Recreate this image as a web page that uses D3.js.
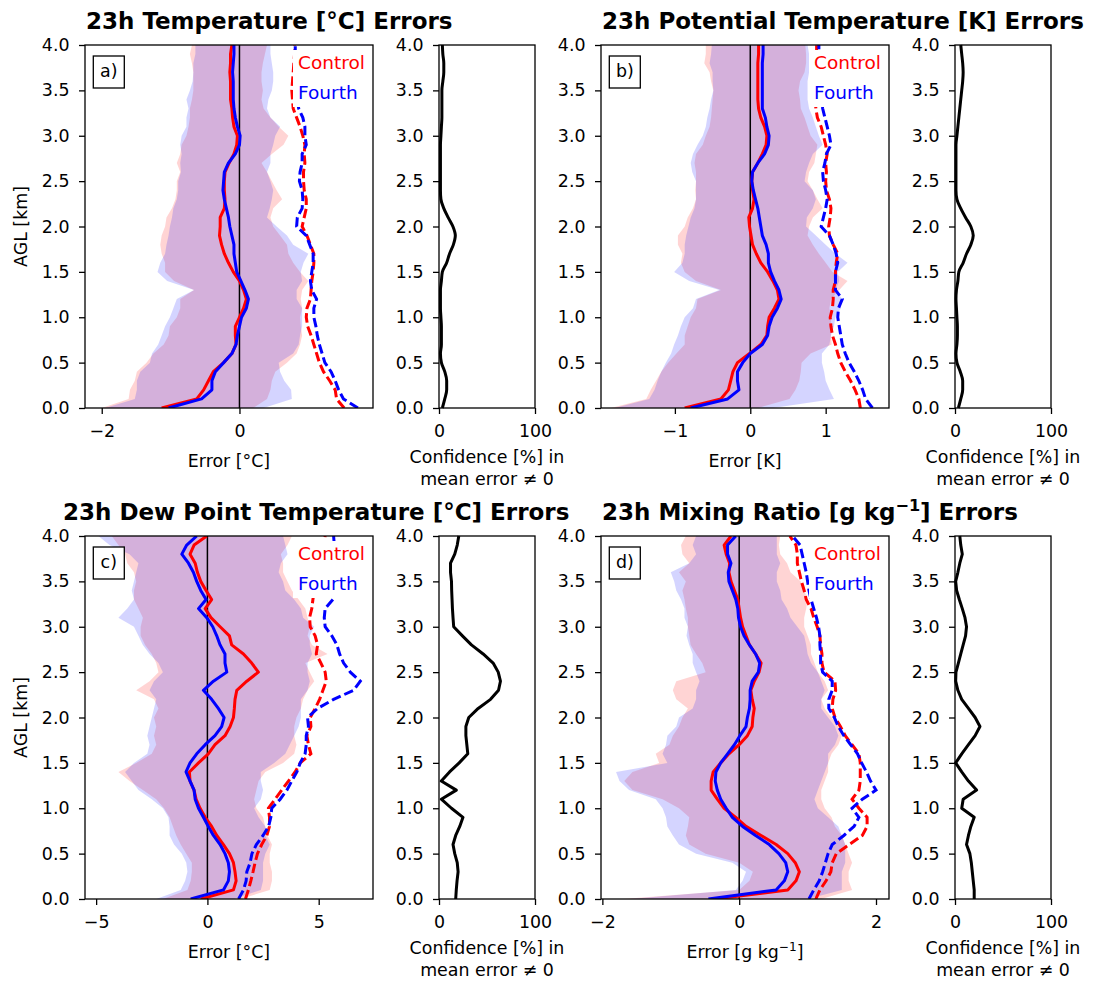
<!DOCTYPE html>
<html>
<head>
<meta charset="utf-8">
<script src="https://cdn.jsdelivr.net/npm/d3@7"></script>
<style>
body { margin: 0; background: #fff; }
svg text { font-family: "DejaVu Sans", sans-serif; fill: #000; }
</style>
</head>
<body>
<svg id="chart" width="1095" height="988"></svg>
<script>
// heights above ground level [km]
const heights = [0.0,0.1,0.2,0.3,0.4,0.5,0.6,0.7,0.8,0.9,1.0,1.1,1.2,1.3,1.4,1.5,1.6,1.7,1.8,1.9,2.0,
                 2.1,2.2,2.3,2.4,2.5,2.6,2.7,2.8,2.9,3.0,3.1,3.2,3.3,3.4,3.5,3.6,3.7,3.8,3.9,4.0];
const heightTicks = [0,0.5,1,1.5,2,2.5,3,3.5,4];
const confTicks = [0, 100];

// a) temperature
const tempCtlMean = [-1.13,-0.62,-0.52,-0.45,-0.38,-0.23,-0.11,-0.05,-0.06,-0.06,0.0,0.06,0.10,0.06,0.0,-0.09,-0.16,-0.22,-0.26,-0.29,-0.28,-0.28,-0.22,-0.21,-0.22,-0.22,-0.21,-0.15,-0.08,-0.04,-0.03,-0.08,-0.10,-0.11,-0.13,-0.13,-0.13,-0.14,-0.13,-0.13,-0.11];
const tempFthMean = [-1.03,-0.55,-0.40,-0.40,-0.35,-0.23,-0.11,-0.05,-0.03,0.0,0.03,0.10,0.13,0.08,0.02,-0.04,-0.06,-0.08,-0.08,-0.11,-0.14,-0.16,-0.19,-0.22,-0.24,-0.23,-0.22,-0.16,-0.06,0.0,0.01,-0.03,-0.06,-0.08,-0.09,-0.09,-0.09,-0.10,-0.09,-0.08,-0.08];
const tempCtlRmse = [1.52,1.41,1.39,1.31,1.22,1.16,1.12,1.08,1.04,0.99,0.97,0.98,1.03,1.04,1.05,1.07,1.08,1.08,1.03,0.98,0.91,0.94,0.97,0.97,0.94,0.93,0.93,0.95,0.94,0.95,0.92,0.88,0.83,0.78,0.77,0.76,0.77,0.78,0.79,0.80,0.80];
const tempFthRmse = [1.72,1.51,1.44,1.39,1.33,1.24,1.20,1.16,1.13,1.11,1.08,1.08,1.12,1.05,1.03,1.05,1.07,1.07,1.02,0.97,0.83,0.84,0.91,0.92,0.91,0.87,0.88,0.91,0.91,0.97,0.95,0.95,0.92,0.86,0.84,0.83,0.82,0.82,0.81,0.81,0.81];
const tempCtlLo = [-2.0,-1.61,-1.59,-1.52,-1.49,-1.35,-1.25,-1.10,-1.03,-1.01,-0.91,-0.86,-0.86,-0.66,-0.95,-1.08,-1.08,-1.13,-1.15,-1.13,-1.08,-1.06,-0.98,-0.93,-0.91,-0.91,-0.86,-0.91,-0.86,-0.84,-0.77,-0.74,-0.72,-0.72,-0.69,-0.67,-0.67,-0.67,-0.69,-0.72,-0.69];
const tempFthLo = [-1.95,-1.52,-1.49,-1.49,-1.44,-1.30,-1.27,-1.18,-1.13,-1.08,-1.01,-0.96,-0.91,-0.66,-1.05,-1.19,-1.15,-1.08,-1.06,-1.03,-1.01,-0.98,-0.96,-0.91,-0.89,-0.89,-0.85,-0.86,-0.84,-0.86,-0.84,-0.77,-0.77,-0.74,-0.77,-0.72,-0.68,-0.67,-0.67,-0.64,-0.64];
const tempCtlHi = [0.20,0.40,0.45,0.47,0.52,0.69,0.83,0.88,0.91,0.89,0.88,0.91,0.89,0.91,1.00,0.88,0.78,0.71,0.69,0.59,0.49,0.45,0.49,0.62,0.54,0.47,0.40,0.32,0.47,0.64,0.71,0.57,0.45,0.35,0.32,0.34,0.32,0.32,0.34,0.37,0.40];
const tempFthHi = [0.35,0.76,0.75,0.65,0.59,0.57,0.78,0.86,0.88,0.91,0.91,0.91,0.83,0.83,0.91,0.89,0.93,1.00,0.78,0.69,0.54,0.40,0.44,0.47,0.49,0.45,0.40,0.45,0.45,0.49,0.52,0.59,0.45,0.40,0.42,0.47,0.49,0.49,0.47,0.45,0.45];
const tempConf = [3.5,6,8,8,6,2.5,1.5,2.5,2.5,2.5,2,1.5,1.5,1.5,2.5,3.5,8,11,15,17,14.5,9.5,5,2,1.5,1.5,1.5,1.5,1.5,1.5,2,2.5,3,3,3,3,4,5,5,4,3.5];

// b) potential temperature
const thetaCtlMean = [-0.87,-0.39,-0.29,-0.26,-0.23,-0.17,-0.01,0.14,0.22,0.23,0.25,0.32,0.38,0.36,0.30,0.23,0.14,0.08,0.03,0.01,-0.01,-0.02,0.03,0.05,0.03,0.02,0.03,0.10,0.16,0.21,0.22,0.19,0.14,0.11,0.10,0.10,0.10,0.10,0.10,0.11,0.11];
const thetaFthMean = [-0.79,-0.30,-0.15,-0.17,-0.17,-0.10,0.0,0.16,0.23,0.25,0.29,0.36,0.41,0.38,0.32,0.27,0.24,0.24,0.21,0.16,0.14,0.12,0.10,0.07,0.04,0.02,0.03,0.10,0.19,0.24,0.25,0.22,0.20,0.16,0.16,0.16,0.16,0.16,0.16,0.17,0.17];
const thetaCtlRmse = [1.46,1.44,1.39,1.33,1.26,1.20,1.16,1.13,1.09,1.07,1.06,1.09,1.10,1.10,1.13,1.13,1.14,1.16,1.10,1.05,1.04,1.06,1.07,1.05,1.01,1.00,1.01,1.00,1.02,1.00,0.97,0.94,0.89,0.87,0.86,0.85,0.86,0.87,0.88,0.88,0.88];
const thetaFthRmse = [1.62,1.53,1.49,1.44,1.38,1.31,1.26,1.22,1.20,1.18,1.16,1.17,1.22,1.13,1.13,1.13,1.16,1.14,1.10,1.05,0.94,0.97,1.00,1.02,1.00,0.97,0.96,0.99,1.01,1.07,1.05,1.02,0.99,0.96,0.94,0.93,0.92,0.92,0.91,0.91,0.91];
const thetaCtlLo = [-1.85,-1.38,-1.32,-1.25,-1.18,-1.09,-0.98,-0.87,-0.87,-0.83,-0.79,-0.72,-0.70,-0.39,-0.72,-0.87,-0.92,-0.90,-0.96,-0.96,-0.87,-0.83,-0.76,-0.72,-0.73,-0.72,-0.72,-0.74,-0.72,-0.63,-0.59,-0.54,-0.52,-0.51,-0.50,-0.49,-0.52,-0.54,-0.61,-0.59,-0.59];
const thetaFthLo = [-1.80,-1.34,-1.27,-1.23,-1.18,-1.12,-1.05,-1.01,-0.96,-0.92,-0.87,-0.76,-0.72,-0.41,-0.81,-1.01,-0.90,-0.87,-0.87,-0.85,-0.82,-0.79,-0.74,-0.72,-0.72,-0.72,-0.77,-0.79,-0.76,-0.70,-0.63,-0.59,-0.57,-0.54,-0.52,-0.49,-0.50,-0.50,-0.54,-0.52,-0.51];
const thetaCtlHi = [0.10,0.52,0.60,0.65,0.67,0.68,0.80,1.08,1.07,1.07,1.07,1.05,1.07,1.18,1.29,1.09,1.00,0.91,0.83,0.76,0.78,0.83,0.96,0.89,0.83,0.76,0.78,0.85,0.87,0.89,0.80,0.76,0.72,0.67,0.66,0.64,0.66,0.72,0.74,0.74,0.73];
const thetaFthHi = [0.30,1.11,1.05,1.00,0.98,0.95,0.95,1.05,1.07,1.11,1.13,1.20,1.22,1.13,1.18,1.16,1.29,1.13,1.00,0.87,0.74,0.75,0.83,0.87,0.83,0.72,0.74,0.78,0.83,0.96,0.91,0.87,0.83,0.78,0.76,0.76,0.76,0.78,0.78,0.78,0.76];
const thetaConf = [3.5,6,8,8,5.5,2,1,2,2.5,2.5,2,1.5,1,1.5,3,4,8.5,12,16.5,19,16.5,11,6,2,1,1,1,1,1,1,2,3,4,5,6,7,8,8.5,8,7,6];

// c) dew point temperature
const dewpCtlMean = [-0.3,1.17,1.29,1.24,1.17,0.99,0.72,0.42,0.19,-0.10,-0.33,-0.51,-0.60,-0.78,-0.81,-0.40,0.04,0.34,0.79,1.02,1.17,1.21,1.24,1.32,1.77,2.29,1.99,1.62,1.09,0.99,0.57,0.16,-0.10,0.19,-0.06,-0.30,-0.45,-0.55,-0.78,-0.60,-0.03];
const dewpFthMean = [-0.75,0.72,0.94,0.99,0.94,0.79,0.57,0.27,0.04,-0.18,-0.40,-0.55,-0.60,-0.78,-0.96,-0.78,-0.48,-0.10,0.34,0.64,0.75,0.49,0.19,-0.18,0.27,0.87,0.79,0.79,0.57,0.42,0.24,-0.03,-0.40,-0.06,-0.30,-0.48,-0.63,-0.85,-1.15,-0.93,-0.48];
const dewpCtlRmse = [1.71,1.84,1.95,2.05,2.14,2.25,2.44,2.67,2.79,2.79,2.74,3.04,3.34,3.64,3.94,4.17,4.65,4.54,4.47,4.65,4.62,4.84,5.04,5.19,5.34,5.29,5.10,4.89,4.95,4.84,4.62,4.59,4.69,4.74,4.8,4.9,5.0,5.1,5.2,5.25,5.29];
const dewpFthRmse = [1.40,1.62,1.74,1.77,1.92,2.0,2.2,2.5,2.75,2.85,2.89,3.27,3.57,3.79,4.02,4.17,4.39,4.44,4.44,4.54,4.50,4.95,5.67,6.57,6.87,6.42,6.12,5.94,5.82,5.59,5.29,5.25,5.29,5.64,5.7,5.75,5.8,5.8,5.75,5.7,5.67];
const dewpCtlLo = [-2.0,-0.9,-0.75,-0.7,-0.7,-0.95,-1.2,-1.4,-1.55,-1.7,-1.95,-2.3,-2.9,-3.5,-4.0,-3.2,-2.5,-2.3,-2.4,-2.3,-2.4,-2.2,-2.4,-3.2,-2.6,-2.2,-2.3,-2.5,-2.8,-3.0,-3.0,-2.9,-3.1,-3.3,-3.3,-3.2,-3.3,-3.6,-3.7,-4.0,-4.3];
const dewpFthLo = [-2.3,-1.2,-1.0,-0.9,-0.95,-1.15,-1.5,-1.7,-1.7,-1.75,-2.0,-2.5,-3.1,-3.4,-3.7,-3.3,-2.7,-2.6,-2.7,-2.6,-2.5,-2.4,-2.3,-2.6,-2.4,-2.0,-2.2,-2.6,-2.9,-3.1,-3.3,-4.0,-3.6,-3.3,-3.4,-3.3,-3.2,-3.1,-3.5,-4.4,-4.9];
const dewpCtlHi = [1.5,2.8,2.9,2.9,2.8,2.8,2.9,2.7,2.6,2.5,2.2,2.1,2.2,2.3,2.6,3.4,3.9,4.0,3.9,3.9,4.0,4.2,4.3,4.5,4.8,4.6,4.4,5.4,4.7,4.5,4.6,4.5,4.4,4.1,3.8,3.6,3.4,3.4,3.3,3.6,3.8];
const dewpFthHi = [1.2,2.4,2.5,2.5,2.5,2.6,2.8,2.6,2.6,2.3,2.1,2.4,2.5,2.4,2.4,3.0,3.5,3.7,3.9,4.1,4.2,4.2,4.2,4.5,4.6,4.5,4.5,4.7,4.6,4.6,4.8,4.3,4.2,3.9,3.5,3.4,3.2,3.3,3.6,3.5,3.4];
const dewpConf = [17.4,18,18.8,19.9,19,16.4,14.6,17.4,21.6,25,13,2.4,18,2.4,11,21,30,29,28,28,31,40.8,53.7,62,64,61.7,56.4,46,33.8,24.4,15.3,14.6,14,13.6,13.2,13,12,12,16.4,19,20.6];

// d) mixing ratio
const mixrCtlMean = [-0.35,0.71,0.83,0.88,0.82,0.71,0.54,0.32,0.10,-0.05,-0.22,-0.32,-0.41,-0.41,-0.38,-0.27,-0.15,0.0,0.12,0.19,0.20,0.22,0.19,0.17,0.22,0.29,0.32,0.24,0.15,0.10,0.05,0.02,0.0,-0.02,-0.07,-0.12,-0.15,-0.14,-0.19,-0.22,-0.12];
const mixrFthMean = [-0.45,0.54,0.66,0.71,0.68,0.58,0.44,0.24,0.05,-0.10,-0.19,-0.27,-0.32,-0.35,-0.34,-0.27,-0.17,-0.07,0.01,0.10,0.12,0.15,0.16,0.16,0.19,0.28,0.30,0.24,0.15,0.07,0.02,-0.01,-0.02,-0.05,-0.10,-0.15,-0.16,-0.12,-0.17,-0.17,-0.05];
const mixrCtlRmse = [1.12,1.18,1.27,1.34,1.36,1.42,1.61,1.80,1.87,1.87,1.75,1.65,1.75,1.77,1.77,1.77,1.75,1.65,1.55,1.48,1.40,1.36,1.37,1.41,1.40,1.24,1.21,1.21,1.19,1.18,1.14,1.09,1.05,0.98,0.95,0.91,0.88,0.85,0.85,0.83,0.74];
const mixrFthRmse = [1.02,1.09,1.17,1.22,1.26,1.30,1.36,1.53,1.68,1.75,1.65,1.80,2.0,1.92,1.86,1.79,1.73,1.63,1.53,1.45,1.39,1.31,1.31,1.36,1.36,1.22,1.19,1.19,1.18,1.18,1.16,1.13,1.09,1.05,1.02,1.0,0.98,0.95,0.92,0.89,0.78];
const mixrCtlLo = [-1.7,0.0,0.15,0.2,0.0,-0.49,-0.73,-0.78,-0.75,-0.73,-0.88,-1.12,-1.56,-1.68,-1.56,-1.17,-1.22,-1.02,-0.97,-0.88,-0.83,-0.75,-0.92,-0.97,-0.92,-0.49,-0.54,-0.63,-0.71,-0.73,-0.75,-0.75,-0.78,-0.80,-0.83,-0.78,-0.88,-0.73,-0.83,-0.85,-0.78];
const mixrFthLo = [-1.6,-0.05,0.05,0.1,-0.1,-0.63,-0.88,-0.97,-1.05,-1.07,-1.12,-1.22,-1.61,-1.75,-1.80,-1.05,-1.12,-1.07,-1.05,-0.92,-0.88,-0.68,-0.63,-0.63,-0.58,-0.63,-0.68,-0.68,-0.73,-0.77,-0.75,-0.80,-0.80,-0.85,-0.92,-0.95,-1.0,-0.73,-0.63,-0.68,-0.63];
const mixrCtlHi = [1.2,1.65,1.6,1.6,1.65,1.6,1.55,1.5,1.4,1.35,1.25,1.2,1.2,1.25,1.3,1.3,1.35,1.45,1.5,1.45,1.35,1.25,1.2,1.3,1.25,1.15,1.1,1.05,1.05,1.0,0.95,0.95,0.98,1.0,0.95,0.9,0.75,0.7,0.6,0.58,0.6];
const mixrFthHi = [1.0,1.5,1.5,1.5,1.55,1.55,1.55,1.5,1.45,1.3,1.15,1.1,1.15,1.2,1.25,1.3,1.3,1.4,1.45,1.4,1.3,1.2,1.2,1.25,1.2,1.15,1.05,1.0,0.98,0.95,0.85,0.75,0.7,0.62,0.6,0.55,0.55,0.6,0.55,0.55,0.55];
const mixrConf = [20,20,19,18,17,15.5,12,14,16.5,20,7,8.5,22.5,14,7,0.7,7,14,21,26,21,14,7,3,0.7,1,3.5,6,8.5,11,12,10.4,7.6,4.5,1.7,0.7,3,5,7.6,6,5];

const svg = d3.select("#chart");
const tickFont = 17.4;
const mainW = 288, confW = 96, rowH = 363, confOffset = 354;

const panels = [
  { label: "a)", title: [["23h Temperature [°C] Errors"]], titleX: 86, top: 45, left: 85,
    xDomain: [-2.243, 1.939], xTicks: [-2, 0], xLabel: [["Error [°C]"]], agl: true, smooth: true,
    ctl: [tempCtlMean, tempCtlRmse, tempCtlLo, tempCtlHi], fth: [tempFthMean, tempFthRmse, tempFthLo, tempFthHi], conf: tempConf },
  { label: "b)", title: [["23h Potential Temperature [K] Errors"]], titleX: 602, top: 45, left: 601,
    xDomain: [-1.98, 1.84], xTicks: [-1, 0, 1], xLabel: [["Error [K]"]], agl: false, smooth: true,
    ctl: [thetaCtlMean, thetaCtlRmse, thetaCtlLo, thetaCtlHi], fth: [thetaFthMean, thetaFthRmse, thetaFthLo, thetaFthHi], conf: thetaConf },
  { label: "c)", title: [["23h Dew Point Temperature [°C] Errors"]], titleX: 63, top: 536, left: 85,
    xDomain: [-5.50, 7.44], xTicks: [-5, 0, 5], xLabel: [["Error [°C]"]], agl: true, smooth: false,
    ctl: [dewpCtlMean, dewpCtlRmse, dewpCtlLo, dewpCtlHi], fth: [dewpFthMean, dewpFthRmse, dewpFthLo, dewpFthHi], conf: dewpConf },
  { label: "d)", title: [["23h Mixing Ratio [g kg"], ["−1", true], ["] Errors"]], titleX: 602, top: 536, left: 601,
    xDomain: [-2.02, 2.19], xTicks: [-2, 0, 2], xLabel: [["Error [g kg"], ["−1", true], ["]"]], agl: false, smooth: false,
    ctl: [mixrCtlMean, mixrCtlRmse, mixrCtlLo, mixrCtlHi], fth: [mixrFthMean, mixrFthRmse, mixrFthLo, mixrFthHi], conf: mixrConf }
];

// text with optional superscript pieces
function richText(sel, parts) {
  parts.forEach(([s, sup]) => {
    const t = sel.append("tspan").text(s);
    if (sup) t.attr("baseline-shift", "super").attr("font-size", "70%");
  });
  return sel;
}

function styleAxis(g) {
  g.select(".domain").remove();
  g.selectAll(".tick line").attr("stroke", "#000").attr("stroke-width", 1.3);
  g.selectAll(".tick text").attr("font-size", tickFont).attr("font-family", "DejaVu Sans").attr("fill", "#000");
}

function drawPanel(p, idx) {
  const top = p.top, bottom = p.top + rowH, left = p.left, right = p.left + mainW;
  const y = d3.scaleLinear().domain([0, 4]).range([bottom, top]);
  const x = d3.scaleLinear().domain(p.xDomain).range([left, right]);

  svg.append("clipPath").attr("id", "clip" + idx)
    .append("rect").attr("x", left).attr("y", top).attr("width", mainW).attr("height", rowH);
  const g = svg.append("g").attr("clip-path", `url(#clip${idx})`);

  const band = (lo, hi) => d3.area()
    .y((h) => y(h))
    .x0((h, i) => x(lo[i]))
    .x1((h, i) => x(hi[i]));
  const profile = (vals) => d3.line()
    .y((h) => y(h))
    .x((h, i) => x(vals[i]));

  g.append("path").datum(heights).attr("d", band(p.ctl[2], p.ctl[3])).attr("fill", "red").attr("fill-opacity", 0.17);
  g.append("path").datum(heights).attr("d", band(p.fth[2], p.fth[3])).attr("fill", "blue").attr("fill-opacity", 0.17);

  g.append("line")
    .attr("x1", x(0)).attr("x2", x(0)).attr("y1", top).attr("y2", bottom)
    .attr("stroke", "#000").attr("stroke-width", 1.5);

  [[p.ctl, "red"], [p.fth, "blue"]].forEach(([s, c]) => {
    g.append("path").datum(heights).attr("d", profile(s[1]))
      .attr("fill", "none").attr("stroke", c).attr("stroke-width", 3).attr("stroke-dasharray", "9.5,4");
  });
  [[p.ctl, "red"], [p.fth, "blue"]].forEach(([s, c]) => {
    g.append("path").datum(heights).attr("d", profile(s[0]))
      .attr("fill", "none").attr("stroke", c).attr("stroke-width", 3).attr("stroke-linejoin", "round");
  });

  // legend
  svg.append("rect").attr("x", right - 80).attr("y", top + 5).attr("width", 79).attr("height", 57).attr("fill", "#fff");
  svg.append("text").attr("x", right - 75).attr("y", top + 23.5).attr("font-size", 18.5).style("fill", "red").text("Control");
  svg.append("text").attr("x", right - 75).attr("y", top + 53.5).attr("font-size", 18.5).style("fill", "blue").text("Fourth");

  // panel letter
  svg.append("rect").attr("x", left + 8.3).attr("y", top + 11).attr("width", 31).attr("height", 32)
    .attr("fill", "#fff").attr("stroke", "#000").attr("stroke-width", 1.3);
  svg.append("text").attr("x", left + 23.8).attr("y", top + 32.3).attr("text-anchor", "middle")
    .attr("font-size", tickFont).text(p.label);

  svg.append("rect").attr("x", left).attr("y", top).attr("width", mainW).attr("height", rowH)
    .attr("fill", "none").attr("stroke", "#000").attr("stroke-width", 1.3);

  svg.append("g").attr("transform", `translate(${left},0)`)
    .call(d3.axisLeft(y).tickValues(heightTicks).tickFormat(d3.format(".1f")).tickSize(6).tickPadding(9.5))
    .call(styleAxis);
  svg.append("g").attr("transform", `translate(0,${bottom})`)
    .call(d3.axisBottom(x).tickValues(p.xTicks).tickFormat(d3.format("d")).tickSize(6).tickPadding(11))
    .call(styleAxis);

  richText(svg.append("text").attr("x", (left + right) / 2).attr("y", bottom + 59)
    .attr("text-anchor", "middle").attr("font-size", tickFont), p.xLabel);

  if (p.agl) {
    svg.append("text").attr("transform", `translate(27,${(top + bottom) / 2}) rotate(-90)`)
      .attr("text-anchor", "middle").attr("font-size", tickFont).text("AGL [km]");
  }

  richText(svg.append("text").attr("x", p.titleX).attr("y", top - 16.5)
    .attr("font-size", 23).attr("font-weight", "bold"), p.title);

  // confidence axes
  const cLeft = left + confOffset, cRight = cLeft + confW;
  const xc = d3.scaleLinear().domain([0, 100]).range([cLeft, cRight]);
  const confLine = d3.line()
    .y((h) => y(h))
    .x((h, i) => xc(p.conf[i]))
    .curve(p.smooth ? d3.curveMonotoneY : d3.curveLinear);
  svg.append("path").datum(heights).attr("d", confLine)
    .attr("fill", "none").attr("stroke", "#000").attr("stroke-width", 3).attr("stroke-linejoin", "round");
  svg.append("rect").attr("x", cLeft).attr("y", top).attr("width", confW).attr("height", rowH)
    .attr("fill", "none").attr("stroke", "#000").attr("stroke-width", 1.3);
  svg.append("g").attr("transform", `translate(${cLeft},0)`)
    .call(d3.axisLeft(y).tickValues(heightTicks).tickFormat(d3.format(".1f")).tickSize(6).tickPadding(9.5))
    .call(styleAxis);
  svg.append("g").attr("transform", `translate(0,${bottom})`)
    .call(d3.axisBottom(xc).tickValues(confTicks).tickFormat(d3.format("d")).tickSize(6).tickPadding(11))
    .call(styleAxis);

  const cl = svg.append("text").attr("x", (cLeft + cRight) / 2).attr("y", bottom + 55)
    .attr("text-anchor", "middle").attr("font-size", tickFont);
  cl.append("tspan").attr("x", (cLeft + cRight) / 2).text("Confidence [%] in");
  cl.append("tspan").attr("x", (cLeft + cRight) / 2).attr("dy", 22).text("mean error ≠ 0");
}

panels.forEach(drawPanel);
</script>
</body>
</html>
